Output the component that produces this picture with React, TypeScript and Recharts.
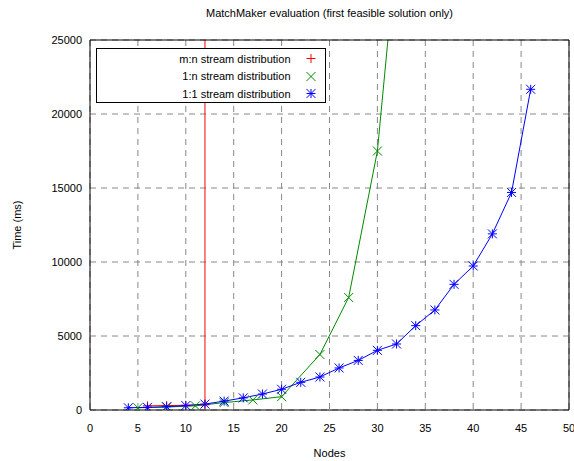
import { LineChart, Line, XAxis, YAxis, CartesianGrid, Legend } from 'recharts';

const FONT = '"Liberation Sans", Arial, sans-serif';

const COLORS = {
    mn: '#ff0000',
    oneN: '#008b00',
    oneOne: '#0000ff',
};

// m:n stream distribution (goes off the chart at 12 nodes)
const redNodes = [6, 8, 10, 12, 12];
const redTimes = [280, 300, 320, 350, 1000000];

// 1:n stream distribution
const greenNodes = [5, 8, 11, 14, 17, 20, 24, 27, 30, 33];
const greenTimes = [150, 200, 280, 500, 680, 900, 3750, 7600, 17500, 38000];

// 1:1 stream distribution
const blueNodes = [4, 6, 8, 10, 12, 14, 16, 18, 20, 22, 24, 26, 28, 30, 32, 34, 36, 38, 40, 42, 44, 46];
const blueTimes = [
    150, 180, 220, 300, 400, 600, 820, 1080, 1400, 1870, 2230, 2840, 3350, 4030, 4460, 5700, 6760, 8490, 9730,
    11900, 14700, 21670,
];

const xTicks = [0, 5, 10, 15, 20, 25, 30, 35, 40, 45, 50];
const yTicks = [0, 5000, 10000, 15000, 20000, 25000];

const seriesNames = ['m:n stream distribution', '1:n stream distribution', '1:1 stream distribution'];

function zip(nodes: number[], times: number[]) {
    return nodes.map((n, i) => ({ n, t: times[i] }));
}

type Shape = 'plus' | 'cross' | 'star';

function Marker({ x, y, shape, color }: { x: number; y: number; shape: Shape; color: string }) {
    const r = 4.5;
    const plus = (
        <>
            <line x1={x - r} y1={y} x2={x + r} y2={y} />
            <line x1={x} y1={y - r} x2={x} y2={y + r} />
        </>
    );
    const cross = (
        <>
            <line x1={x - r} y1={y - r} x2={x + r} y2={y + r} />
            <line x1={x - r} y1={y + r} x2={x + r} y2={y - r} />
        </>
    );
    return (
        <g stroke={color} strokeWidth={1} fill="none">
            {shape !== 'cross' && plus}
            {shape !== 'plus' && cross}
        </g>
    );
}

function dotFor(shape: Shape, color: string) {
    return (props: any) => (
        <g key={`${shape}-${props.index}`}>
            <Marker x={props.cx} y={props.cy} shape={shape} color={color} />
        </g>
    );
}

const legendItems: { shape: Shape; color: string }[] = [
    { shape: 'plus', color: COLORS.mn },
    { shape: 'cross', color: COLORS.oneN },
    { shape: 'star', color: COLORS.oneOne },
];

function LegendBox() {
    return (
        <div
            style={{
                width: 228,
                height: 52,
                border: '1px solid #000',
                background: '#fff',
                fontFamily: FONT,
                fontSize: 11,
                color: '#000',
                paddingTop: 1,
                boxSizing: 'content-box',
            }}
        >
            {seriesNames.map((name, i) => (
                <div key={name} style={{ display: 'flex', alignItems: 'center', height: 17.5 }}>
                    <div style={{ width: 197, textAlign: 'right' }}>{name}</div>
                    <svg width={30} height={17} style={{ marginLeft: 5 }}>
                        <Marker x={15} y={8.5} shape={legendItems[i].shape} color={legendItems[i].color} />
                    </svg>
                </div>
            ))}
        </div>
    );
}

export default function App() {
    const tickStyle = { fill: '#000', fontSize: 11, fontFamily: FONT };
    return (
        <div style={{ position: 'absolute', left: 0, top: 0, width: 574, height: 461, background: '#fff' }}>
            <div
                style={{
                    position: 'absolute',
                    left: 90,
                    width: 479,
                    top: 7,
                    textAlign: 'center',
                    fontFamily: FONT,
                    fontSize: 11,
                    color: '#000',
                }}
            >
                MatchMaker evaluation (first feasible solution only)
            </div>
            <LineChart width={574} height={461} margin={{ top: 40, right: 5, bottom: 0, left: 0 }}>
                <CartesianGrid stroke="#888" strokeDasharray="6 5" />
                <XAxis
                    dataKey="n"
                    type="number"
                    domain={[0, 50]}
                    ticks={xTicks}
                    interval={0}
                    allowDataOverflow
                    height={51}
                    tickLine={false}
                    tickSize={0}
                    tickMargin={14}
                    axisLine={{ stroke: '#000' }}
                    tick={tickStyle}
                    label={{ value: 'Nodes', position: 'insideBottom', offset: 4, fill: '#000', fontSize: 11, fontFamily: FONT }}
                />
                <XAxis
                    xAxisId="bm"
                    dataKey="n"
                    type="number"
                    domain={[0, 50]}
                    ticks={xTicks}
                    interval={0}
                    allowDataOverflow
                    mirror
                    tick={false}
                    tickSize={6}
                    tickLine={{ stroke: '#000' }}
                    axisLine={false}
                />
                <XAxis
                    xAxisId="tm"
                    orientation="top"
                    dataKey="n"
                    type="number"
                    domain={[0, 50]}
                    ticks={xTicks}
                    interval={0}
                    allowDataOverflow
                    mirror
                    tick={false}
                    tickSize={6}
                    tickLine={{ stroke: '#000' }}
                    axisLine={{ stroke: '#000' }}
                />
                <YAxis
                    type="number"
                    domain={[0, 25000]}
                    ticks={yTicks}
                    interval={0}
                    allowDataOverflow
                    width={90}
                    tickLine={false}
                    tickSize={0}
                    tickMargin={8}
                    axisLine={{ stroke: '#000' }}
                    tick={tickStyle}
                    label={{
                        value: 'Time (ms)',
                        angle: -90,
                        position: 'insideLeft',
                        offset: 17,
                        textAnchor: 'middle',
                        fill: '#000',
                        fontSize: 11,
                        fontFamily: FONT,
                    }}
                />
                <YAxis
                    yAxisId="lm"
                    type="number"
                    domain={[0, 25000]}
                    ticks={yTicks}
                    interval={0}
                    allowDataOverflow
                    mirror
                    tick={false}
                    tickSize={6}
                    tickLine={{ stroke: '#000' }}
                    axisLine={false}
                />
                <YAxis
                    yAxisId="rm"
                    orientation="right"
                    type="number"
                    domain={[0, 25000]}
                    ticks={yTicks}
                    interval={0}
                    allowDataOverflow
                    mirror
                    tick={false}
                    tickSize={6}
                    tickLine={{ stroke: '#000' }}
                    axisLine={{ stroke: '#000' }}
                />
                <Legend
                    layout="vertical"
                    align="center"
                    verticalAlign="middle"
                    wrapperStyle={{ left: 96, top: 48, width: 230, height: 54 }}
                    content={() => <LegendBox />}
                />
                <Line
                    data={zip(redNodes, redTimes)}
                    dataKey="t"
                    name={seriesNames[0]}
                    stroke={COLORS.mn}
                    strokeWidth={1}
                    dot={dotFor('plus', COLORS.mn)}
                    activeDot={false}
                    isAnimationActive={false}
                />
                <Line
                    data={zip(greenNodes, greenTimes)}
                    dataKey="t"
                    name={seriesNames[1]}
                    stroke={COLORS.oneN}
                    strokeWidth={1}
                    dot={dotFor('cross', COLORS.oneN)}
                    activeDot={false}
                    isAnimationActive={false}
                />
                <Line
                    data={zip(blueNodes, blueTimes)}
                    dataKey="t"
                    name={seriesNames[2]}
                    stroke={COLORS.oneOne}
                    strokeWidth={1}
                    dot={dotFor('star', COLORS.oneOne)}
                    activeDot={false}
                    isAnimationActive={false}
                />
            </LineChart>
        </div>
    );
}
